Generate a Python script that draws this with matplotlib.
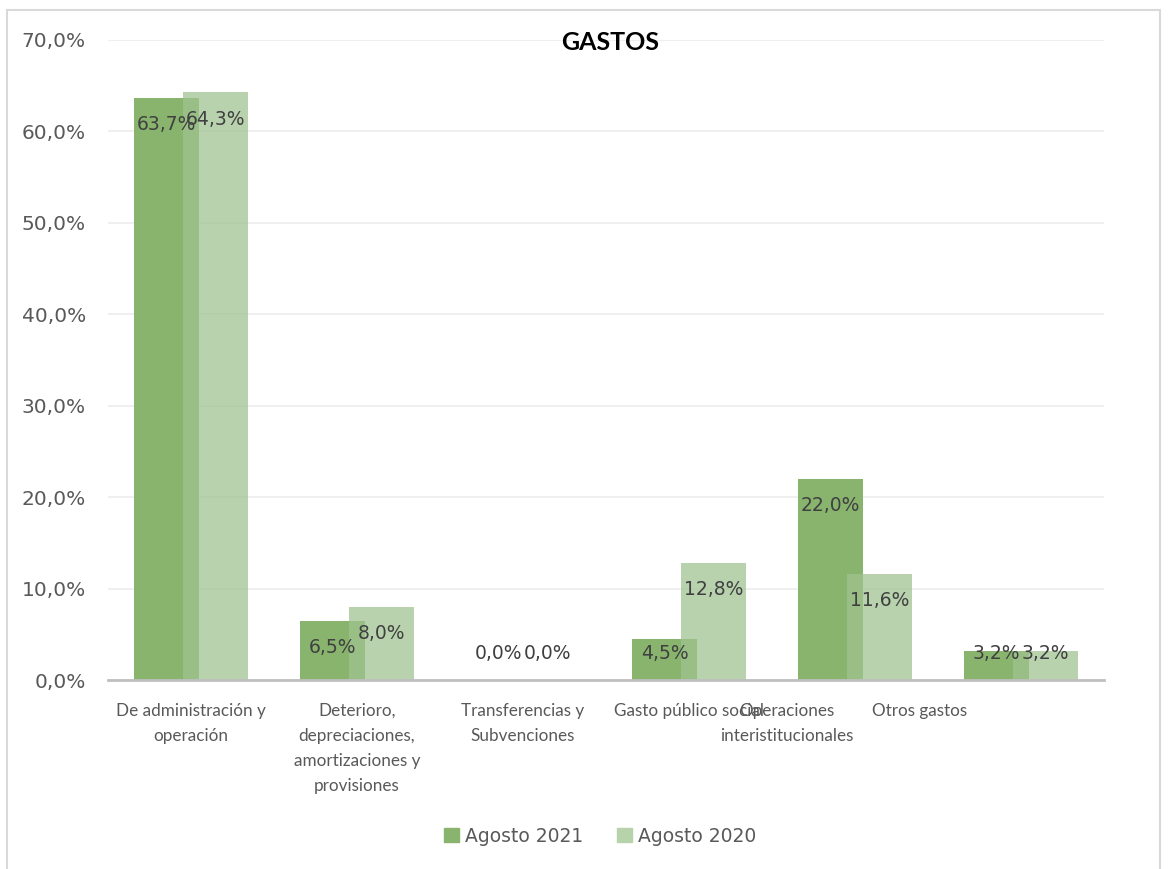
import numpy as np
import matplotlib.pyplot as plt
from matplotlib.patches import Rectangle, Patch

# data
categorias = [
    "De administración y\noperación",
    "Deterioro,\ndepreciaciones,\namortizaciones y\nprovisiones",
    "Transferencias y\nSubvenciones",
    "Gasto público social",
    "Operaciones\ninteristitucionales",
    "Otros gastos",
]
agosto_2021 = [63.7, 6.5, 0.0, 4.5, 22.0, 3.2]
agosto_2020 = [64.3, 8.0, 0.0, 12.8, 11.6, 3.2]
y_ticks = [0, 10, 20, 30, 40, 50, 60, 70]

# Excel pushed the last two category labels to the left
label_shift = [0, 0, 0, 0, -0.41, -0.61]

color_21 = "#89b46e"
color_20 = "#9fc490"
txt_gray = "#595959"
lbl_gray = "#404040"

fig = plt.figure(figsize=(11.7, 8.69), dpi=100, facecolor="white")
ax = fig.add_axes([108 / 1170, 1 - 680 / 869, 996 / 1170, 640 / 869])

x = np.arange(len(categorias))
w = 0.39
off = 0.148
ax.bar(x - off, agosto_2021, w, color=color_21, zorder=2, label="Agosto 2021")
ax.bar(x + off, agosto_2020, w, color=color_20, alpha=0.75, zorder=3, label="Agosto 2020")

def lbl(v):
    return f"{v:.1f}%".replace(".", ",")

for xs, vals in ((x - off, agosto_2021), (x + off, agosto_2020)):
    for xi, v in zip(xs, vals):
        ax.text(xi, max(v, 5.9) - 2.95, lbl(v), ha="center", va="center",
                fontsize=13.5, color=lbl_gray, zorder=5)

ax.set_xlim(-0.5, len(categorias) - 0.5)
ax.set_ylim(0, 70)
ax.set_yticks(y_ticks)
ax.set_yticklabels([f"{t:.1f}%".replace(".", ",") for t in y_ticks])
ax.tick_params(axis="y", length=0, pad=16, labelsize=14.5, labelcolor=txt_gray)
ax.set_xticks([])
ax.grid(axis="y", color="#ececec", linewidth=1.2, zorder=0)
for s in ["top", "right", "left"]:
    ax.spines[s].set_visible(False)
ax.spines["bottom"].set_color("#bfbfbf")
ax.spines["bottom"].set_linewidth(2)
ax.spines["bottom"].set_zorder(6)

for i, c in enumerate(categorias):
    ax.text(x[i] + label_shift[i], -2.5, c, ha="center", va="top",
            fontsize=12.3, family=["Lato", "DejaVu Sans"],
            color=txt_gray, linespacing=1.7)

fig.text(610 / 1170, 1 - 43 / 869, "GASTOS", ha="center", va="center",
         fontsize=18, fontweight="bold", family=["Lato", "DejaVu Sans"], color="black")

handles = [Patch(color=color_21), Patch(color="#b7d3ac")]
fig.legend(handles, ["Agosto 2021", "Agosto 2020"], loc="center",
           bbox_to_anchor=(600 / 1170, 1 - 836 / 869), ncol=2, frameon=False,
           fontsize=13.5, labelcolor=txt_gray, handlelength=0.8, handleheight=0.8,
           handletextpad=0.3, columnspacing=1.8)

fig.patches.append(Rectangle((7 / 1170, -0.05), 1153 / 1170, 1.05 - 10 / 869,
                             transform=fig.transFigure, fill=False,
                             edgecolor="#d9d9d9", linewidth=1.5))

fig.savefig("out.png", dpi=100)
